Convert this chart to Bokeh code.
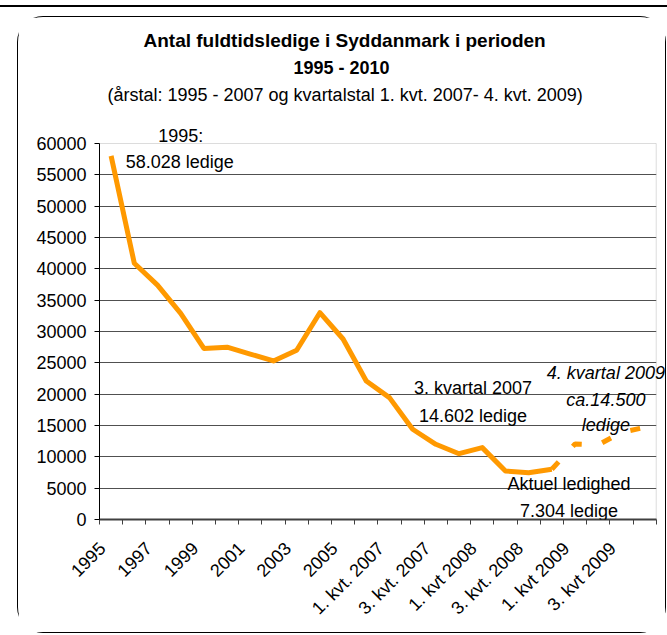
import math
from bokeh.plotting import figure
from bokeh.models import FixedTicker, Label, Title, InlineStyleSheet, BoxAnnotation
from bokeh.embed import file_html
from bokeh.resources import INLINE

# ---------------- data ----------------
categories = ["1995", "1996", "1997", "1998", "1999", "2000", "2001", "2002",
              "2003", "2004", "2005", "2006",
              "1. kvt. 2007", "2. kvt. 2007", "3. kvt. 2007", "4. kvt. 2007",
              "1. kvt 2008", "2. kvt 2008", "3. kvt. 2008", "4. kvt 2008",
              "1. kvt 2009", "2. kvt 2009", "3. kvt 2009", "4. kvt 2009"]
actual_values = [58028, 40900, 37400, 32900, 27300, 27500, 26400, 25300,
                 27000, 33000, 28800, 22100, 19450, 14400, 12000, 10500,
                 11470, 7740, 7470, 8020]
forecast_categories = ["4. kvt 2008", "1. kvt 2009", "2. kvt 2009", "3. kvt 2009", "4. kvt 2009"]
forecast_values = [8020, 12050, 11900, 13900, 14700]
y_ticks = [0, 5000, 10000, 15000, 20000, 25000, 30000, 35000, 40000,
           45000, 50000, 55000, 60000]

title_line1 = "Antal fuldtidsledige i Syddanmark i perioden"
title_line2 = "1995 - 2010"
title_line3 = "(årstal: 1995 - 2007 og kvartalstal 1. kvt. 2007- 4. kvt. 2009)"

FONT = "Liberation Sans"
ORANGE = "#FF9900"

x_actual = [categories.index(c) for c in categories[:len(actual_values)]]
x_forecast = [categories.index(c) for c in forecast_categories]

# layout: 376 px for the 0..60000 scale, frame 413 px tall (headroom for the 1995 note)
AXIS_PX = 376
FRAME_H = 413
x_start = -0.5
x_last = len(categories) - 0.5
x_end = x_last + 0.4
y_end = y_ticks[-1] * FRAME_H / AXIS_PX

p = figure(frame_width=566, frame_height=FRAME_H,
           x_range=(x_start, x_end), y_range=(y_ticks[0], y_end),
           output_backend="svg", toolbar_location=None,
           min_border_left=81, min_border_right=0, min_border_top=89, min_border_bottom=113,
           background_fill_color="white", border_fill_color="white")

p.styles = {"border": "1px solid #000000", "border-radius": "26px",
            "transform": "translate(17px, 16px)"}
p.stylesheets = [InlineStyleSheet(css=":host::before { content: ''; position: absolute; left: -18px; top: -12px; width: 667px; height: 2px; background: #000000; }")]

# titles (added from the plot outward)
t3 = Title(text=title_line3, align="left", offset=8, standoff=4,
           text_font=FONT, text_font_size="18px", text_font_style="normal", text_color="black")
t2 = Title(text=title_line2, align="left", offset=194, standoff=4.4,
           text_font=FONT, text_font_size="18px", text_font_style="bold", text_color="black")
t1 = Title(text=title_line1, align="left", offset=44, standoff=7.2,
           text_font=FONT, text_font_size="19px", text_font_style="bold", text_color="black")
p.add_layout(t3, "above")
p.add_layout(t2, "above")
p.add_layout(t1, "above")

# axes
p.yaxis.ticker = FixedTicker(ticks=y_ticks)
p.yaxis.bounds = (y_ticks[0], y_ticks[-1])
p.yaxis.major_tick_in = 0
p.yaxis.major_tick_out = 5
p.yaxis.minor_tick_line_color = None
p.yaxis.axis_line_color = "#000000"
p.yaxis.major_tick_line_color = "#000000"
p.yaxis.major_label_standoff = 8
p.yaxis.major_label_text_font = FONT
p.yaxis.major_label_text_font_size = "18px"
p.yaxis.major_label_text_color = "black"

label_idx = list(range(0, len(categories), 2))
label_pos = [i - 0.37 for i in label_idx]
boundaries = [i - 0.5 for i in range(len(categories) + 1)]
p.xaxis.ticker = FixedTicker(ticks=label_pos, minor_ticks=boundaries)
p.xaxis.major_label_overrides = {pos: categories[i] for pos, i in zip(label_pos, label_idx)}
p.xaxis.bounds = (x_start, x_last)
p.xaxis.major_tick_in = 0
p.xaxis.major_tick_out = 0
p.xaxis.minor_tick_in = 0
p.xaxis.minor_tick_out = 5
p.xaxis.minor_tick_line_color = "#404040"
p.xaxis.axis_line_color = "#404040"
p.xaxis.axis_line_width = 2
p.xaxis.major_label_orientation = math.pi / 4
p.xaxis.major_label_standoff = 21
p.xaxis.major_label_text_font = FONT
p.xaxis.major_label_text_font_size = "18px"
p.xaxis.major_label_text_color = "black"

p.xgrid.grid_line_color = None
p.ygrid.ticker = FixedTicker(ticks=y_ticks[1:-1])
p.ygrid.grid_line_color = "#505050"
p.ygrid.grid_line_width = 1
p.outline_line_color = None

# hide grid beyond the last category, then draw the plot-area border
p.add_layout(BoxAnnotation(left=x_last, bottom=y_ticks[0], top=y_ticks[-1], fill_color="white",
                           fill_alpha=1, line_color=None, level="glyph"))
p.add_layout(BoxAnnotation(left=x_start, right=x_last, bottom=y_ticks[0], top=y_ticks[-1],
                           fill_color=None, fill_alpha=0, line_color="#8c8c8c", line_width=1,
                           level="glyph"))

# series
p.line(x_actual, actual_values, line_color=ORANGE, line_width=5, line_join="round")
p.line(x_forecast, forecast_values, line_color=ORANGE, line_width=5, line_dash="10 21")

# annotations
def add_label(x, y, text, italic=False):
    p.add_layout(Label(x=x, y=y, text=text, text_align="center", text_baseline="alphabetic",
                       text_font=FONT, text_font_size="18px",
                       text_font_style="italic" if italic else "normal", text_color="black"))

add_label(3.0, 61230, "1995:")
add_label(2.96, 56970, "58.028 ledige")
add_label(15.6, 20950, "3. kvartal 2007")
add_label(15.6, 16530, "14.602 ledige")
add_label(19.74, 5716, "Aktuel ledighed")
add_label(19.74, 1357, "7.304 ledige")
add_label(21.33, 23440, "4. kvartal 2009", italic=True)
add_label(21.33, 19080, "ca.14.500", italic=True)
add_label(21.33, 15090, "ledige", italic=True)

open("out.html", "w").write(file_html(p, INLINE))
